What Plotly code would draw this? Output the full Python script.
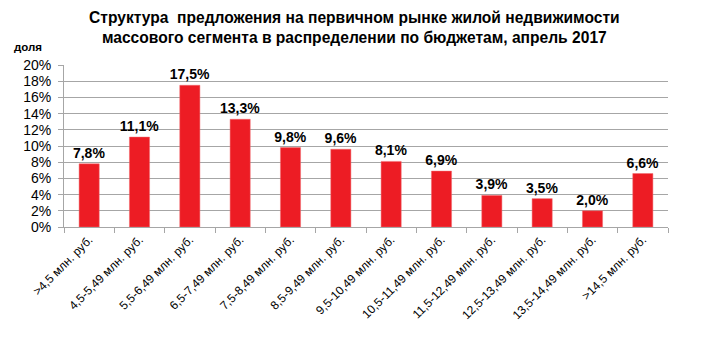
import plotly.graph_objects as go

categories = [">4,5 млн. руб.", "4,5-5,49 млн. руб.", "5,5-6,49 млн. руб.", "6,5-7,49 млн. руб.",
              "7,5-8,49 млн. руб.", "8,5-9,49 млн. руб.", "9,5-10,49 млн. руб.", "10,5-11,49 млн. руб.",
              "11,5-12,49 млн. руб.", "12,5-13,49 млн. руб.", "13,5-14,49 млн. руб.", ">14,5 млн. руб."]
values = [7.8, 11.1, 17.5, 13.3, 9.8, 9.6, 8.1, 6.9, 3.9, 3.5, 2.0, 6.6]
y_ticks = [0, 2, 4, 6, 8, 10, 12, 14, 16, 18, 20]
y_tick_labels = [f"{v}%" for v in y_ticks]
value_labels = [f"{v:.1f}%".replace(".", ",") for v in values]

W, H = 708, 338
L, R, T, B = 64, 40, 65, 111
pw, ph = W - L - R, H - T - B

fig = go.Figure()
fig.add_trace(go.Bar(
    x=categories, y=values,
    marker=dict(color="#ED1C24", line=dict(color="#F06A6E", width=0.5)),
    text=value_labels, textposition="outside", cliponaxis=False,
    constraintext="none",
    textfont=dict(family="Liberation Sans, Arial", size=14, color="#000000"),
    texttemplate="<b>%{text}</b>",
    width=0.4,
))

font = "Liberation Sans, Arial"
fig.update_layout(
    width=W, height=H,
    margin=dict(l=L, r=R, t=T, b=B),
    paper_bgcolor="white", plot_bgcolor="white",
    showlegend=False,
    annotations=[
        dict(text="<b>Структура  предложения на первичном рынке жилой недвижимости<br>массового сегмента в распределении по бюджетам, апрель 2017</b>",
             x=(354 - L) / pw, y=(H - B - 27.5) / ph, xref="paper", yref="paper",
             xanchor="center", yanchor="middle", showarrow=False,
             font=dict(family=font, size=15.6, color="#000000")),
        dict(text="<b>доля</b>", x=(28 - L) / pw, y=(H - B - 47) / ph, xref="paper", yref="paper",
             showarrow=False, xanchor="center", yanchor="middle",
             font=dict(family=font, size=11.5, color="#000000")),
    ],
)

fig.update_yaxes(
    range=[0, 20], tickvals=y_ticks, ticktext=y_tick_labels,
    showgrid=True, gridcolor="#A6A6A6", gridwidth=1,
    showline=True, linecolor="#A6A6A6", linewidth=1,
    ticks="outside", ticklen=5, tickcolor="#A6A6A6",
    ticklabelstandoff=4,
    tickfont=dict(family=font, size=14, color="#000000"),
    zeroline=False,
)
fig.update_xaxes(
    tickangle=-45, showline=True, linecolor="#A6A6A6", linewidth=1,
    ticks="outside", ticklen=5, tickcolor="#A6A6A6", tickson="boundaries",
    tickfont=dict(family=font, size=12, color="#000000"),
    showgrid=False,
)

fig.write_html("out.html")
